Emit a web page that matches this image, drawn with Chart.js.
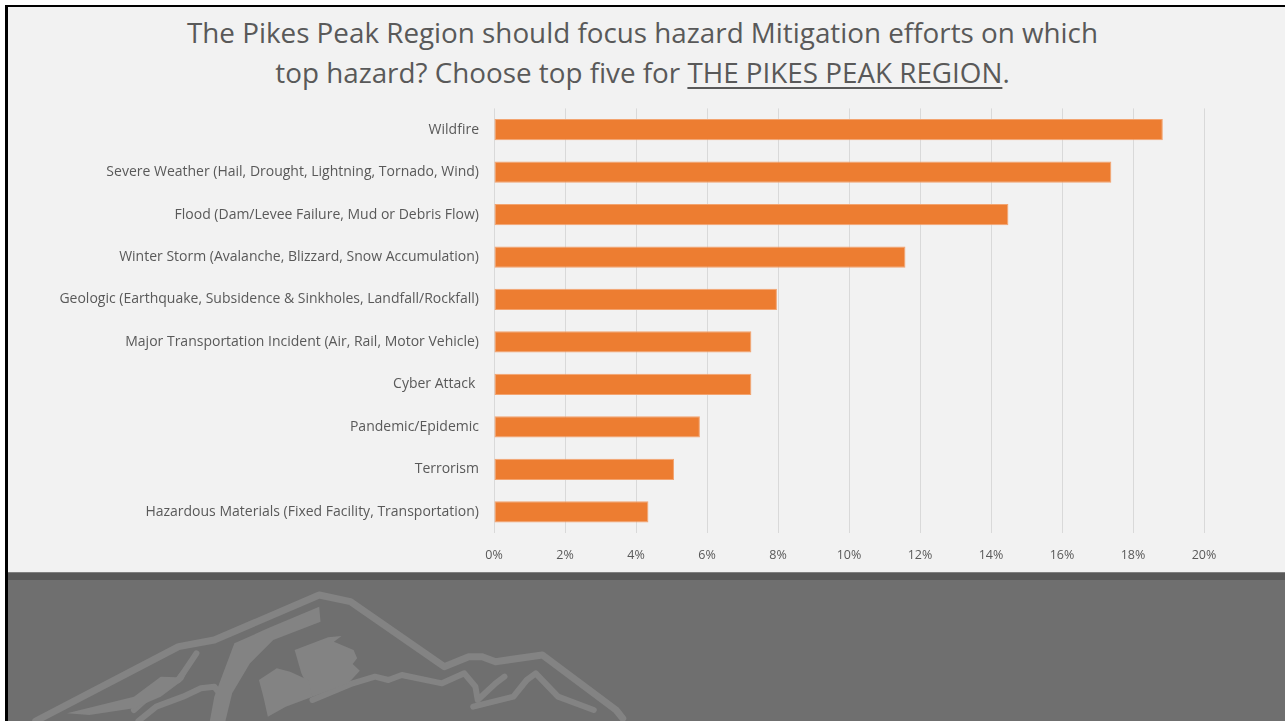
<!DOCTYPE html>
<html>
<head>
<meta charset="utf-8">
<script src="https://cdn.jsdelivr.net/npm/chart.js@4.4.1/dist/chart.umd.min.js"></script>
<style>
    html, body { margin: 0; padding: 0; width: 1285px; height: 721px; overflow: hidden; background: #ffffff; }
    .abs { position: absolute; }
    #frameTop { left: 5px; top: 5px; width: 1280px; height: 2px; background: #000; }
    #frameLeft { left: 5px; top: 5px; width: 3px; height: 716px; background: #000; }
    #paper { left: 8px; top: 7px; width: 1277px; height: 565px; background: #f2f2f2; }
    #sepLight { left: 8px; top: 572px; width: 1277px; height: 1px; background: #808080; }
    #sepDark { left: 8px; top: 573px; width: 1277px; height: 7px; background: #595959; }
    #footer { left: 8px; top: 580px; width: 1277px; height: 141px; background: #6f6f6f; }
    #title {
        left: 0; top: 12px; width: 1285px; text-align: center;
        font-family: "Open Sans", sans-serif; font-size: 27.8px; line-height: 40px; color: #595959;
    }
    #title u { text-decoration-thickness: 2px; text-underline-offset: 4px; }
    #chartBox { left: 0; top: 85px; width: 1285px; height: 487px; }
    #logo { left: 0; top: 540px; width: 700px; height: 181px; }
</style>
</head>
<body>
<div class="abs" id="paper"></div>
<div class="abs" id="sepLight"></div>
<div class="abs" id="sepDark"></div>
<div class="abs" id="footer"></div>
<svg class="abs" id="logo" viewBox="0 0 1568 543" preserveAspectRatio="none">
    <g fill="none" stroke="#838383" stroke-linejoin="round" stroke-linecap="round">
        <polyline vector-effect="non-scaling-stroke" stroke-width="7"
            points="80,543 400,320 480,300 715,165 785,185 995,380 1050,350 1080,350 1110,365 1215,345 1380,510 1395,535" />
        <polyline vector-effect="non-scaling-stroke" stroke-width="6"
            points="300,510 350,450 400,420 440,340" />
        <polyline vector-effect="non-scaling-stroke" stroke-width="6"
            points="310,543 350,500 410,470 450,445 480,440 500,475" />
        <polyline vector-effect="non-scaling-stroke" stroke-width="6"
            points="700,480 790,430 840,410 870,420 900,405 990,430 1040,400 1065,440 1070,480 1110,430 1130,410" />
        <polyline vector-effect="non-scaling-stroke" stroke-width="6"
            points="1060,500 1150,470 1180,420 1200,400 1250,470 1330,510" />
    </g>
    <g fill="#838383">
        <polygon points="715,200 718,245 612,300 560,370 520,460 505,543 470,543 480,470 525,310 600,265" />
        <polygon points="660,330 735,292 765,288 748,305 792,330 800,355 790,372 806,392 780,430 700,470 675,400" />
        <polygon points="580,420 620,385 650,395 690,420 700,470 640,500 600,530 590,470" />
        <polygon points="150,520 300,470 360,410 395,412 440,335 410,420 360,470 300,505 200,525" />
    </g>
</svg>
<div class="abs" id="frameTop"></div>
<div class="abs" id="frameLeft"></div>
<div class="abs" id="title">The Pikes Peak Region should focus hazard Mitigation efforts on which<br>top hazard? Choose top five for <u>THE PIKES PEAK REGION</u>.</div>
<div class="abs" id="chartBox"><canvas id="hazardChart"></canvas></div>

<script>
// Kategori bahaya (urutan dari atas ke bawah)
const hazards = [
    'Wildfire',
    'Severe Weather (Hail, Drought, Lightning, Tornado, Wind)',
    'Flood (Dam/Levee Failure, Mud or Debris Flow)',
    'Winter Storm (Avalanche, Blizzard, Snow Accumulation)',
    'Geologic (Earthquake, Subsidence & Sinkholes, Landfall/Rockfall)',
    'Major Transportation Incident (Air, Rail, Motor Vehicle)',
    'Cyber Attack ',
    'Pandemic/Epidemic',
    'Terrorism',
    'Hazardous Materials (Fixed Facility, Transportation)'
];

// Persentase jawaban (%)
const shares = [18.84, 17.39, 14.49, 11.59, 7.97, 7.25, 7.25, 5.80, 5.07, 4.35];

// Sumbu X
const axisMin = 0;
const axisMax = 20;
const axisStep = 2;

const TEXT_GREY = '#595959';
const BAR_ORANGE = '#ED7D31';

new Chart(document.getElementById('hazardChart'), {
    type: 'bar',
    data: {
        labels: hazards,
        datasets: [{
            data: shares,
            backgroundColor: BAR_ORANGE,
            borderColor: '#F3A470',
            borderWidth: 1,
            borderSkipped: false,
            categoryPercentage: 1.0,
            barPercentage: 0.5
        }]
    },
    options: {
        indexAxis: 'y',
        responsive: true,
        maintainAspectRatio: false,
        animation: false,
        layout: { padding: { top: 7, right: 81, left: 0, bottom: 0 } },
        plugins: {
            legend: { display: false },
            tooltip: { enabled: false }
        },
        scales: {
            x: {
                min: axisMin,
                max: axisMax,
                border: { display: false },
                grid: { color: '#d9d9d9', lineWidth: 1, drawTicks: false },
                ticks: {
                    stepSize: axisStep,
                    padding: 15,
                    color: TEXT_GREY,
                    font: { family: 'Open Sans', size: 12.5 },
                    callback: v => v + '%'
                },
                afterFit: scale => { scale.height = 39; }
            },
            y: {
                border: { display: false },
                grid: { display: false, drawTicks: false },
                ticks: {
                    padding: 15,
                    color: TEXT_GREY,
                    font: { family: 'Open Sans', size: 14 }
                },
                afterFit: scale => { scale.width = 494; }
            }
        }
    }
});
</script>
</body>
</html>
